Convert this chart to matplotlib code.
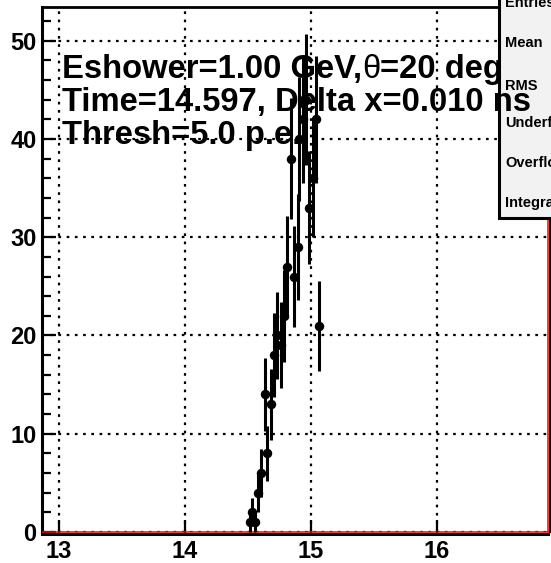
import numpy as np
import matplotlib.pyplot as plt
from matplotlib.patches import Rectangle

plt.rcParams['font.family'] = ['Liberation Sans', 'DejaVu Sans']
plt.rcParams['font.weight'] = 'bold'

# bin centres (ns) and contents, bin width 0.01 ns
time_ns = [14.515, 14.535, 14.555, 14.585, 14.605, 14.635, 14.655, 14.685,
           14.705, 14.735, 14.765, 14.785, 14.815, 14.845, 14.865, 14.895,
           14.905, 14.935, 14.965, 14.985, 15.015, 15.045, 15.065]
counts = [1, 2, 1, 4, 6, 14, 8, 13, 18, 20, 19, 22, 27, 38, 26, 29,
          40, 42, 44, 33, 36, 42, 21]
bin_width = 0.01

x_ticks = [13, 14, 15, 16]
y_ticks = [0, 10, 20, 30, 40, 50]
x_range = (12.867, 16.888)
y_range = (0, 53.4)

# first line is split so the greek letter can be drawn in normal weight
line1_parts = [('Eshower=1.00 GeV,', 'bold'), ('\u03b8', 'normal'), ('=20 deg', 'bold')]
info_lines = ['Time=14.597, Delta x=0.010 ns', 'Thresh=5.0 p.e.']
stat_names = ['Entries', 'Mean', 'RMS', 'Underflow', 'Overflow', 'Integral']
stat_rows = [3, 43, 86, 123, 163, 203]   # pixel rows of the stats labels

W, H = 551, 563
fig = plt.figure(figsize=(W / 100, H / 100), dpi=100)
ax = fig.add_axes([42.3 / W, 1 - 532 / H, (548.3 - 42.3) / W, (532 - 7.3) / H])

counts = np.array(counts, dtype=float)
ax.errorbar(time_ns, counts, yerr=np.sqrt(counts), xerr=bin_width / 2,
            fmt='o', color='black', ms=5.8, elinewidth=2.2, capsize=0,
            zorder=4, clip_on=False)

# empty red histogram sitting on the frame
edges = np.arange(x_range[0], x_range[1] + bin_width, bin_width)
ax.stairs(np.zeros(len(edges) - 1), edges, color='red', lw=1.1, zorder=3,
          clip_on=False)
ax.axvline(x_range[1], color='red', lw=1.1, zorder=3, clip_on=False)

ax.set_xlim(*x_range)
ax.set_ylim(*y_range)
ax.set_xticks(x_ticks)
ax.set_yticks(y_ticks)
ax.set_yticks(np.arange(0, 53, 2), minor=True)
ax.tick_params(axis='both', which='major', direction='in', length=10, width=1.6,
               labelsize=17, pad=4)
ax.tick_params(axis='y', which='minor', direction='in', length=6.5, width=1.6)
ax.grid(True, which='major', color='black', linestyle=(0, (1.2, 2.5)), lw=1.6)

for side in ['left', 'bottom', 'top', 'right']:
    ax.spines[side].set_linewidth(2.2)
ax.spines['bottom'].set_position(('outward', 1.5))
ax.spines['right'].set_position(('outward', 1.2))
ax.spines['right'].set_linewidth(1.5)
ax.spines['top'].set_linewidth(2)

# stats box, cut by the canvas edge
box = Rectangle((499 / W, 1 - 218 / H), 60 / W, 230 / H, transform=fig.transFigure,
                facecolor='#f2f2f2', edgecolor='black', lw=2.2, zorder=5)
fig.patches.append(box)
for name, row in zip(stat_names, stat_rows):
    fig.text(505 / W, 1 - row / H, name, fontsize=10.5, fontweight='bold',
             va='center', ha='left', zorder=6)

renderer = fig.canvas.get_renderer()
x_px = 62
for part, weight in line1_parts:
    t = fig.text(x_px / W, 1 - 78 / H, part, fontsize=23.6, fontweight=weight,
                 va='baseline', ha='left', zorder=7)
    x_px += t.get_window_extent(renderer).width

for i, line in enumerate(info_lines):
    fig.text(62 / W, 1 - (111 + 33 * i) / H, line, fontsize=23.6, fontweight='bold',
             va='baseline', ha='left', zorder=7)

fig.savefig('out.png', dpi=100)
